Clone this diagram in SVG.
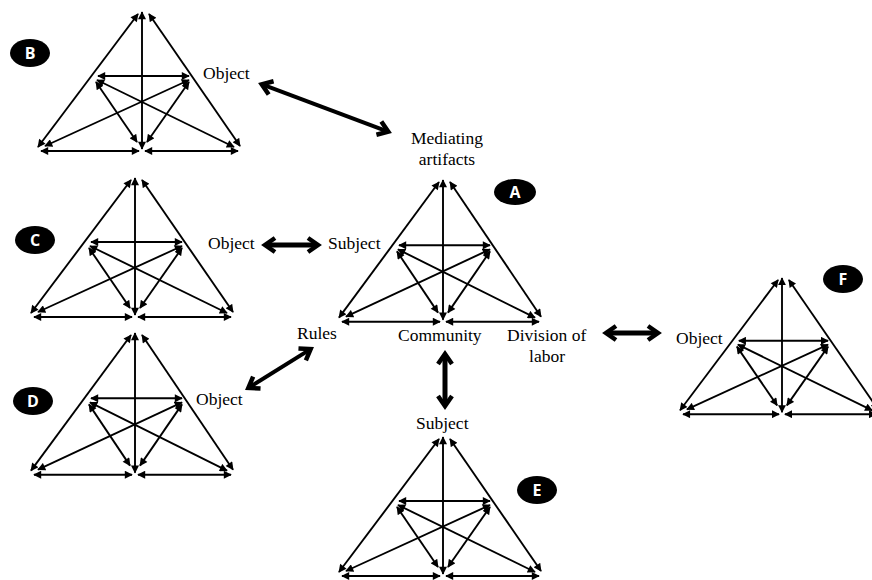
<svg xmlns="http://www.w3.org/2000/svg" xmlns:xlink="http://www.w3.org/1999/xlink" width="872" height="580" viewBox="0 0 872 580">
<style>
.t{fill:none;stroke:#000;stroke-width:1.9;marker-start:url(#ah);marker-end:url(#ah)}
.big{fill:none;stroke:#000;stroke-width:5;marker-start:url(#bh);marker-end:url(#bh)}
.lbl{font-family:"Liberation Serif","Times New Roman",serif;font-size:17.5px;fill:#000}
.tag{fill:#000}
.tagt{font-family:"Open Sans","Liberation Sans",sans-serif;font-weight:bold;font-size:16px;fill:#fff;text-anchor:middle}
</style>
<defs>
<marker id="ah" viewBox="0 0 10 10" refX="9" refY="5" markerWidth="9" markerHeight="8" markerUnits="userSpaceOnUse" orient="auto-start-reverse">
<path d="M0,0 L10,5 L0,10 z" fill="#000"/>
</marker>
<marker id="bh" viewBox="0 0 20 20" refX="13" refY="10" markerWidth="20" markerHeight="20" markerUnits="userSpaceOnUse" orient="auto-start-reverse" overflow="visible">
<path d="M4,3 L14,10 L4,17" fill="none" stroke="#000" stroke-width="4.5" stroke-linejoin="miter"/>
</marker>
<g id="tri">
<line class="t" x1="-104" y1="135" x2="-4" y2="2"/>
<line class="t" x1="98" y1="134" x2="7" y2="2"/>
<line class="t" x1="0" y1="137" x2="0" y2="0"/>
<line class="t" x1="-101" y1="139" x2="-3" y2="139"/>
<line class="t" x1="3" y1="139" x2="96" y2="139"/>
<line class="t" x1="-44" y1="64" x2="47" y2="64"/>
<line class="t" x1="-45" y1="68" x2="92" y2="135"/>
<line class="t" x1="47" y1="68" x2="-97" y2="134"/>
<line class="t" x1="-46" y1="70" x2="-5" y2="130"/>
<line class="t" x1="47" y1="70" x2="5" y2="130"/>
</g>
</defs>

<g id="node-B">
<use xlink:href="#tri" transform="translate(142,12)"/>
<ellipse class="tag" cx="30" cy="53" rx="20" ry="14"/>
<text class="tagt" x="30" y="59">B</text>
<text class="lbl" x="203" y="79">Object</text>
</g>

<g id="node-C">
<use xlink:href="#tri" transform="translate(135,178)"/>
<ellipse class="tag" cx="35" cy="240" rx="20" ry="14"/>
<text class="tagt" x="35" y="246">C</text>
<text class="lbl" x="208" y="249">Object</text>
</g>

<g id="node-D">
<use xlink:href="#tri" transform="translate(135,333) scale(1,1.02)"/>
<ellipse class="tag" cx="33" cy="401" rx="20" ry="14"/>
<text class="tagt" x="33" y="407">D</text>
<text class="lbl" x="196" y="405">Object</text>
</g>

<g id="node-A">
<use xlink:href="#tri" transform="translate(443,180) scale(1,1.02)"/>
<ellipse class="tag" cx="515" cy="192" rx="21" ry="13"/>
<text class="tagt" x="515" y="198">A</text>
<text class="lbl" x="447" y="144" text-anchor="middle">Mediating</text>
<text class="lbl" x="447" y="165" text-anchor="middle">artifacts</text>
<text class="lbl" x="328" y="249">Subject</text>
<text class="lbl" x="297" y="339">Rules</text>
<text class="lbl" x="398" y="341">Community</text>
<text class="lbl" x="507" y="341">Division of</text>
<text class="lbl" x="547" y="362" text-anchor="middle">labor</text>
</g>

<g id="node-E">
<use xlink:href="#tri" transform="translate(443,437)"/>
<ellipse class="tag" cx="537" cy="490" rx="20" ry="14"/>
<text class="tagt" x="537" y="496">E</text>
<text class="lbl" x="416" y="429">Subject</text>
</g>

<g id="node-F">
<use xlink:href="#tri" transform="translate(782,278) scale(0.98,0.98)"/>
<ellipse class="tag" cx="843" cy="279" rx="20" ry="14"/>
<text class="tagt" x="843" y="285">F</text>
<text class="lbl" x="676" y="344">Object</text>
</g>

<g id="connectors">
<line class="big" style="stroke-width:4" x1="262.7" y1="84.7" x2="387.3" y2="131.3"/>
<line class="big" x1="266" y1="245" x2="317" y2="245"/>
<line class="big" style="stroke-width:4" x1="309.8" y1="349.6" x2="249.2" y2="387.4"/>
<line class="big" x1="607" y1="333" x2="657" y2="333"/>
<line class="big" x1="445" y1="355" x2="445" y2="405"/>
</g>
</svg>
